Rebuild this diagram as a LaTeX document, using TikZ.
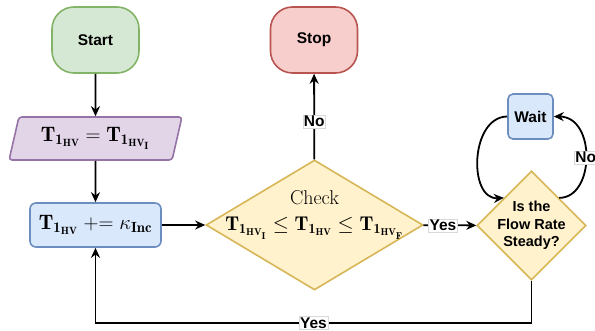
\documentclass[tikz,border=0pt]{standalone}
\usepackage{fontspec}
\setsansfont{Liberation Sans}
\usetikzlibrary{shapes.geometric,arrows.meta}

\definecolor{greenfill}{HTML}{D5E8D4}
\definecolor{greenline}{HTML}{82B366}
\definecolor{purplefill}{HTML}{E1D5E7}
\definecolor{purpleline}{HTML}{9673A6}
\definecolor{bluefill}{HTML}{DAE8FC}
\definecolor{blueline}{HTML}{6C8EBF}
\definecolor{yellowfill}{HTML}{FFF2CC}
\definecolor{yellowline}{HTML}{D6B656}
\definecolor{redfill}{HTML}{F8CECC}
\definecolor{redline}{HTML}{B85450}

\newcommand{\Thv}{\mathbf{T}_{\mathbf{1}_{\mathbf{HV}}}}
\newcommand{\ThvI}{\mathbf{T}_{\mathbf{1}_{\mathbf{HV}_{\mathbf{I}}}}}
\newcommand{\ThvF}{\mathbf{T}_{\mathbf{1}_{\mathbf{HV}_{\mathbf{F}}}}}

\begin{document}
\begin{tikzpicture}[x=1pt,y=-1pt,
    >={Stealth[length=10pt,width=9pt]},
    line/.style={line width=1.8pt},
    sans/.style={font=\sffamily\bfseries\fontsize{15.5}{17.5}\selectfont},
    serif/.style={font=\fontsize{21}{24}\selectfont},
    box/.style={draw, line width=1.6pt, align=center, inner sep=0pt},
    term/.style={box, sans, rectangle, rounded corners=22pt, minimum width=87pt, minimum height=66pt},
    io/.style={box, serif, trapezium, trapezium left angle=73, trapezium right angle=107,
        trapezium stretches=true, rounded corners=3pt, minimum width=173pt, minimum height=43pt,
        fill=purplefill, draw=purpleline},
    proc/.style={box, rectangle, rounded corners=6pt, fill=bluefill, draw=blueline},
    cond/.style={box, diamond, fill=yellowfill, draw=yellowline},
    tag/.style={sans, fill=white, draw=black!15, line width=0.4pt, inner sep=1pt}
]
    \useasboundingbox (0,0) rectangle (595,331);

    \node[term, fill=greenfill, draw=greenline] (start) at (95.5,40) {Start};
    \node[term, fill=redfill, draw=redline] (stop) at (314,40) {Stop};
    \node[io] (init) at (95.5,138.5) {$\Thv = \ThvI$};
    \node[proc, serif, minimum width=131pt, minimum height=44pt] (incr) at (95.5,225) {$\Thv \mathrel{+}= \kappa_{\mathbf{Inc}}$};
    \node[cond, minimum width=217pt, minimum height=130pt] (chk) at (314.5,225) {};
    \node[serif, align=center, font=\fontsize{20}{26}\selectfont] (chktext) at (314.5,215) {Check\\$\ThvI \le \Thv \le \ThvF$};
    \node[cond, minimum width=109pt, minimum height=109pt] (flow) at (531.5,225.5) {};
    \node[sans, align=center, font=\sffamily\bfseries\fontsize{14.5}{17.5}\selectfont] (flowtext) at (531.5,225.5) {Is the\\Flow Rate\\Steady?};
    \node[proc, sans, minimum width=45pt, minimum height=45pt, rounded corners=5pt] (wait) at (530.5,116.5) {Wait};

    \coordinate (floor) at (0,323);

    \draw[line,->] (start) -- (init);
    \draw[line,->] (init) -- (incr);
    \draw[line,->] (incr) -- (chk);
    \draw[line,->] (chk) -- node[tag, pos=0.44] (nostop) {No} (stop);
    \draw[line,->] (chk) -- node[tag, pos=0.37] (yesflow) {Yes} (flow);
    \draw[line,->] (flow.south) -- (flow.south |- floor) -- node[tag] (yesback) {Yes} (incr.south |- floor) -- (incr.south);
    \draw[line,->] (wait.west) .. controls (470,117) and (468,200) .. (flow.north west);
    \draw[line,->] (flow.north east) .. controls (595,198) and (596,117) .. node[tag] (nowait) {No} (wait.east);
\end{tikzpicture}
\end{document}
